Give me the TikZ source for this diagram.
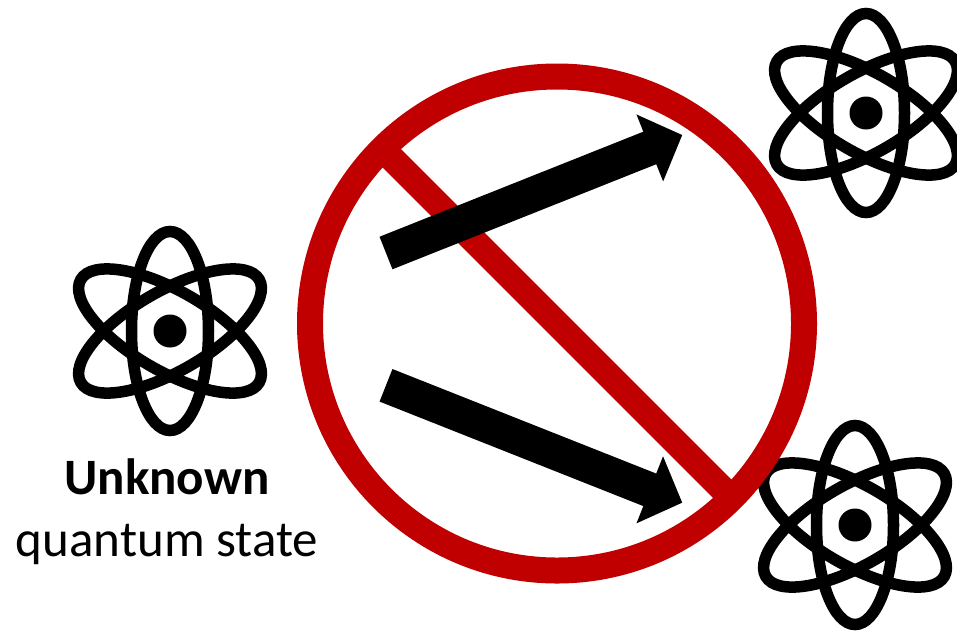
\documentclass[tikz,border=0pt]{standalone}
\usepackage{fontspec}
\setmainfont{Carlito}
\usepackage{xcolor}
\definecolor{forbid}{RGB}{192, 0, 0}
\usepackage{tikz}
\usetikzlibrary{arrows.meta,positioning}

\begin{document}
\begin{tikzpicture}[
  x=1pt, y=-1pt,
  orbit/.style={draw=black, line width=11.5pt},
  nucleus/.style={circle, fill=black, minimum size=33pt, inner sep=0pt, outer sep=0pt},
  ban/.style={draw=forbid, line width=26pt},
  flow/.style={-{Triangle[length=35pt, width=70pt]}, line width=35pt, color=black, shorten >=0pt},
  title/.style={font=\fontsize{51}{51}\selectfont\bfseries, anchor=base},
  caption/.style={font=\fontsize{51}{51}\selectfont, anchor=base},
  atom/.pic={
    \draw[orbit] (0,0) ellipse (38.5 and 99.5);
    \draw[orbit, rotate=60] (0,0) ellipse (40 and 103);
    \draw[orbit, rotate=-60] (0,0) ellipse (40 and 103);
    \node[nucleus] (-core) at (0,0) {};
  }
]
\useasboundingbox (0,0) rectangle (957,630);

% source and the two copies
\pic (src) at (170,331) {atom};
\pic (copya) at (866,113) {atom};
\pic (copyb) at (855,525) {atom};

\node[title] (unknown) at (167,494) {Unknown};
\node[caption] (state) at (167,556) {quantum state};

% prohibition sign
\node[circle, ban, minimum size=494pt, inner sep=0pt, outer sep=0pt] (sign) at (557,323.5) {};
\draw[ban] (sign.north west) -- (sign.south east);

% cloning arrows
\coordinate (taila) at (386,253);
\coordinate (tipa) at (682.3,135);
\coordinate (tailb) at (386,385.3);
\coordinate (tipb) at (682.3,502.7);
\draw[flow] (taila) -- (tipa);
\draw[flow] (tailb) -- (tipb);
\end{tikzpicture}
\end{document}
